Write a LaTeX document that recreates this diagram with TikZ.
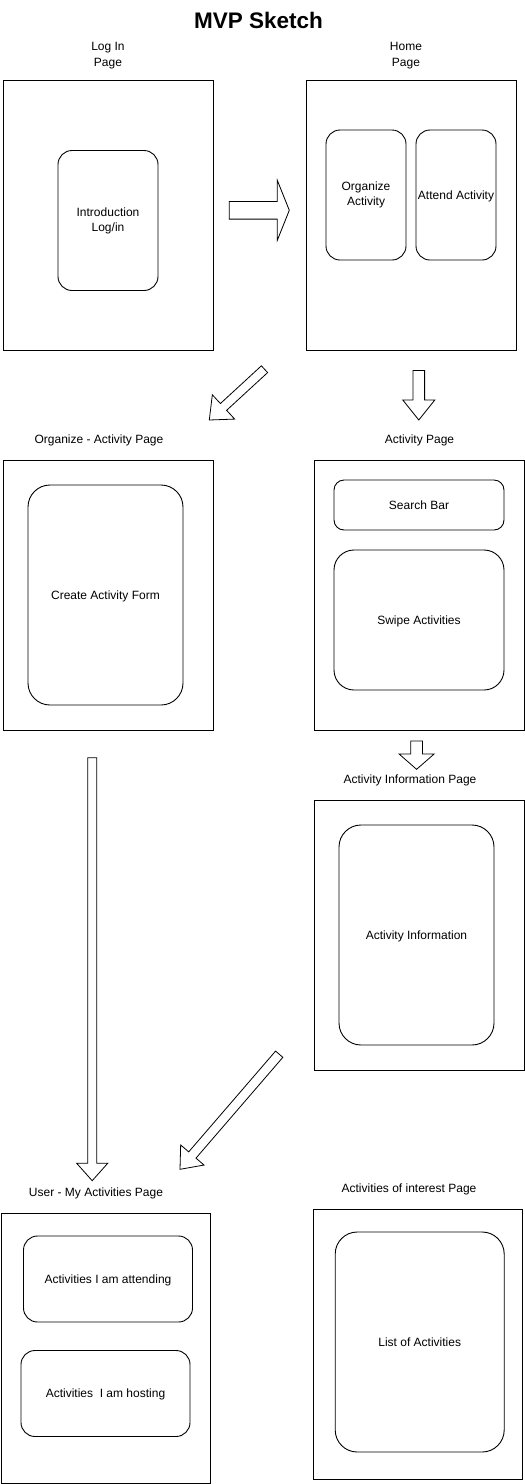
\documentclass[tikz,border=0pt]{standalone}
\usepackage{fontspec}
\setmainfont{Liberation Sans}
\usetikzlibrary{calc}

\tikzset{
  pagebox/.style={draw, line width=0.9pt, minimum width=210pt, minimum height=270pt, inner sep=0pt},
  cardbox/.style={draw, line width=0.9pt, rounded corners=14pt, inner sep=0pt, align=center,
    font=\fontsize{12}{15}\selectfont},
  pagelabel/.style={align=center, inner sep=0pt, font=\fontsize{12}{15.5}\selectfont},
  oneline/.style={text height=8.6pt, text depth=0pt},
  flowarrow/.style={draw, line width=0.8pt, fill=white, line join=miter}
}

% tail, tip, shaft half width, head half width, head length
\newcommand{\blockarrow}[5]{%
  \coordinate (ba-base) at ($(#2)!#5!(#1)$);
  \draw[flowarrow] ($(#1)!#3!90:(#2)$) -- ($(ba-base)!#3!90:(#2)$) -- ($(ba-base)!#4!90:(#2)$)
    -- (#2) -- ($(ba-base)!#4!-90:(#2)$) -- ($(ba-base)!#3!-90:(#2)$) -- ($(#1)!#3!-90:(#2)$) -- cycle;
}

\begin{document}
\begin{tikzpicture}[x=1pt, y=-1pt]
  \useasboundingbox (0,0) rectangle (525,1484);

  \node[font=\fontsize{22.5}{26}\bfseries, inner sep=0pt, oneline, text height=16pt] (title) at (258.5,20) {MVP Sketch};

  % log in and home
  \node[pagelabel] (loginlabel) at (108,55.5) {Log In\\Page};
  \node[pagebox] (login) at (108,215) {};
  \node[cardbox, minimum width=100pt, minimum height=140pt] (intro) at (108,220.5) {Introduction\\Log/in};

  \node[pagelabel] (homelabel) at (406,55.5) {Home\\Page};
  \node[pagebox] (home) at (411,215) {};
  \node[cardbox, minimum width=80pt, minimum height=130pt] (organize) at (366,195) {Organize\\Activity};
  \node[cardbox, oneline, minimum width=80pt, minimum height=130pt] (attend) at (456,195) {Attend Activity};

  % organize activity and activity page
  \node[pagelabel, oneline] (orglabel) at (99,439) {Organize - Activity Page};
  \node[pagebox] (orgpage) at (108,595) {};
  \node[cardbox, oneline, rounded corners=22pt, minimum width=155pt, minimum height=220pt] (form) at (105.5,595) {Create Activity Form};

  \node[pagelabel, oneline] (actlabel) at (419.5,439) {Activity Page};
  \node[pagebox] (actpage) at (419,595) {};
  \node[cardbox, oneline, rounded corners=10pt, minimum width=170pt, minimum height=50pt] (search) at (419,505) {Search Bar};
  \node[cardbox, oneline, rounded corners=20pt, minimum width=170pt, minimum height=140pt] (swipe) at (419,620) {Swipe Activities};

  % activity information
  \node[pagelabel, oneline] (infolabel) at (410,779) {Activity Information Page};
  \node[pagebox] (infopage) at (419,935) {};
  \node[cardbox, oneline, rounded corners=22pt, minimum width=155pt, minimum height=220pt] (info) at (416.5,935) {Activity Information};

  % my activities and activities of interest
  \node[pagelabel, oneline] (userlabel) at (96,1192.5) {User - My Activities Page};
  \node[pagebox, minimum width=209pt] (userpage) at (106,1348) {};
  \node[cardbox, oneline, minimum width=169pt, minimum height=86pt] (attending) at (108,1279) {Activities I am attending};
  \node[cardbox, oneline, minimum width=169pt, minimum height=86pt] (hosting) at (105.5,1393.5) {Activities\ \ I am hosting};

  \node[pagelabel, oneline] (interestlabel) at (409,1188.3) {Activities of interest Page};
  \node[pagebox, minimum width=209pt] (interestpage) at (417.5,1344.3) {};
  \node[cardbox, oneline, rounded corners=22pt, minimum width=169pt, minimum height=220pt] (list) at (419.7,1342) {List of Activities};

  % block arrows
  \coordinate (a1) at (229.3,210.3);  \coordinate (a1tip) at (289.3,210.3);
  \coordinate (a2) at (264.5,369.2);  \coordinate (a2tip) at (209.3,420);
  \coordinate (a3) at (418.8,370.5);  \coordinate (a3tip) at (418.8,420);
  \coordinate (a4) at (416.6,741);    \coordinate (a4tip) at (416.6,769.3);
  \coordinate (a5) at (92.2,757.7);   \coordinate (a5tip) at (92.2,1180.7);
  \coordinate (a6) at (279.2,1054.2); \coordinate (a6tip) at (180,1169.3);

  \blockarrow{a1}{a1tip}{8.8pt}{30pt}{12pt}
  \blockarrow{a2}{a2tip}{4.6pt}{16.5pt}{19.3pt}
  \blockarrow{a3}{a3tip}{5.8pt}{16pt}{20pt}
  \blockarrow{a4}{a4tip}{5.8pt}{17.5pt}{15.3pt}
  \blockarrow{a5}{a5tip}{4.5pt}{15.5pt}{17.4pt}
  \blockarrow{a6}{a6tip}{4.8pt}{15.4pt}{18.9pt}
\end{tikzpicture}
\end{document}
